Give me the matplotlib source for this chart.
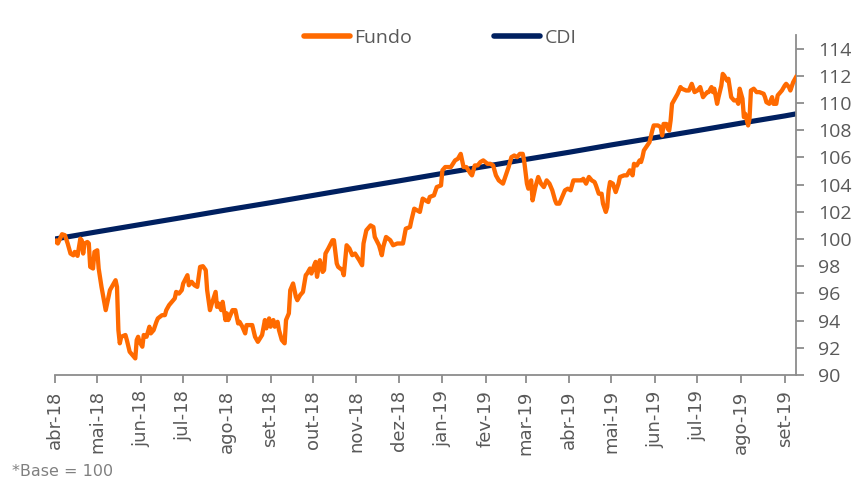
import matplotlib
matplotlib.use("Agg")
import matplotlib.pyplot as plt
import datetime as dt

# ---- data ----
start_date = "2018-04-01"
end_date = "2019-09-09"

fundo_days = [0,1,2,5,7,9,11,13,14,16,18,19,20,21,23,24,25,27,28,30,31,33,36,37,39,43,44,45,46,47,50,51,53,56,57,58,59,60,62,63,65,67,68,70,72,73,76,78,79,81,83,85,86,88,90,91,94,95,97,99,101,
              103,105,107,108,110,111,114,115,116,118,119,121,122,123,126,128,130,131,133,135,136,140,142,144,147,149,150,152,153,155,156,158,159,161,163,164,166,167,169,171,172,174,176,178,179,181,182,184,185,186,188,190,191,192,194,197,198,
              200,201,204,205,207,209,211,213,216,218,219,221,224,226,227,230,232,233,235,238,240,243,245,247,249,252,253,255,257,259,261,263,265,266,269,271,274,275,277,281,284,286,288,290,292,295,296,
              298,300,302,304,307,309,311,313,315,318,320,322,324,326,328,330,332,333,335,336,338,339,341,343,345,347,349,351,353,355,356,358,360,362,364,366,368,371,374,375,377,379,381,383,384,386,388,389,391,
              392,393,394,396,398,400,401,404,406,408,410,411,413,415,416,417,418,420,422,424,425,428,430,431,432,434,435,436,437,438,440,442,444,445,448,450,452,454,456,458,460,461,463,464,466,467,468,470,471,473,474,475,477,478,480,482,484,485,486,488,489,490,492,493,494,496,498,500,503,504,505,507,509,510,512,513,516,518,519,521,522,524,526]

fundo_values = [99.8,99.9,99.67,100.35,100.28,99.67,98.93,98.8,99.05,98.76,100.03,99.9,98.93,99.67,99.78,99.67,97.95,97.83,99.05,99.17,97.83,96.48,94.77,95.26,96.24,96.97,96.48,93.3,92.33,92.81,92.94,92.57,91.71,91.34,91.22,92.57,92.81,92.44,92.08,92.94,92.81,93.55,93.06,93.3,93.91,94.16,94.4,94.4,94.77,95.14,95.38,95.63,96.11,95.99,96.24,96.73,97.34,96.6,96.85,96.6,96.48,
                97.95,98.0,97.71,96.24,94.77,95.14,96.11,95.01,95.26,94.77,95.38,94.04,94.53,94.04,94.77,94.77,93.79,93.91,93.55,93.06,93.67,93.67,92.81,92.44,92.94,94.04,93.43,94.16,93.55,94.04,93.55,93.91,93.3,92.57,92.33,94.04,94.53,96.24,96.73,95.75,95.5,95.87,96.11,97.34,97.46,97.83,97.46,98.07,98.32,97.22,98.44,97.58,97.71,98.93,99.3,99.91,99.91,
                98.2,97.95,97.71,97.34,99.54,99.3,98.81,98.93,98.44,98.07,99.67,100.64,101.0,100.88,100.15,99.54,98.81,99.42,100.15,99.91,99.54,99.67,99.67,99.67,100.76,100.88,101.38,102.23,102.11,101.99,102.97,102.84,102.72,103.09,103.21,103.82,103.94,105.05,105.29,105.29,105.78,105.9,106.26,105.29,105.29,104.8,104.68,
                105.41,105.41,105.66,105.78,105.53,105.53,105.41,104.68,104.31,104.07,104.68,105.29,106.02,106.14,106.02,106.26,106.26,105.78,104.07,103.7,104.31,102.84,103.82,104.56,104.07,103.82,104.31,104.07,103.58,102.84,102.6,102.6,103.09,103.58,103.7,103.58,104.31,104.31,104.31,104.43,104.07,104.56,104.31,104.19,103.94,103.33,103.33,102.6,101.99,
                102.35,103.58,104.19,104.07,103.45,104.07,104.56,104.68,104.68,105.05,104.68,105.53,105.41,105.78,105.66,106.02,106.51,106.81,107.12,107.98,108.35,108.35,108.22,107.61,108.46,108.46,108.1,107.98,108.72,109.94,110.31,110.68,111.17,111.05,110.92,110.92,111.41,110.8,110.92,111.17,110.43,110.56,110.8,110.8,111.17,110.8,111.05,109.94,110.43,111.28,112.14,112.02,111.65,111.78,110.43,110.19,110.19,109.94,111.05,110.31,108.96,109.2,108.35,108.84,110.92,111.05,110.8,110.8,110.68,110.43,110.06,109.94,110.43,109.94,109.94,110.56,110.92,111.28,111.41,111.17,110.92,111.53,111.9]

cdi_dates = ["2018-04-01","2018-05-01","2018-06-01","2018-07-01","2018-08-01","2018-09-01",
             "2018-10-01","2018-11-01","2018-12-01","2019-01-01","2019-02-01","2019-03-01",
             "2019-04-01","2019-05-01","2019-06-01","2019-07-01","2019-08-01","2019-09-01","2019-09-09"]
cdi_values = [100.0,100.53,101.07,101.59,102.14,102.67,103.2,103.75,104.27,104.82,105.35,105.85,
              106.38,106.92,107.45,107.97,108.52,109.05,109.2]

month_labels = ["abr-18","mai-18","jun-18","jul-18","ago-18","set-18","out-18","nov-18","dez-18",
                "jan-19","fev-19","mar-19","abr-19","mai-19","jun-19","jul-19","ago-19","set-19"]
y_ticks = [90,92,94,96,98,100,102,104,106,108,110,112,114]

assert len(fundo_days) == len(fundo_values)

# ---- build ----
d0 = dt.datetime.strptime(start_date, "%Y-%m-%d")
fundo_x = [d0 + dt.timedelta(days=d) for d in fundo_days]
cdi_x = [dt.datetime.strptime(s, "%Y-%m-%d") for s in cdi_dates]
month_x = cdi_x[:len(month_labels)]

ORANGE = "#FF6A00"
NAVY = "#002060"
GRAY = "#595959"
SPINE = "#8C8C8C"

fig = plt.figure(figsize=(8.56, 4.8), dpi=100)
ax = fig.add_axes([55/856, 1-375/480, (796-55)/856, (375-35)/480])

l_cdi, = ax.plot(cdi_x, cdi_values, color=NAVY, lw=3.7, solid_capstyle="round", zorder=2, label="CDI")
l_f, = ax.plot(fundo_x, fundo_values, color=ORANGE, lw=3.1, solid_joinstyle="round", zorder=3, label="Fundo")

ax.set_xlim(d0, dt.datetime.strptime(end_date, "%Y-%m-%d"))
ax.set_ylim(90, 115)

ax.yaxis.tick_right()
ax.set_yticks(y_ticks)
ax.set_yticklabels([str(v) for v in y_ticks], fontfamily="Open Sans", fontsize=14, color=GRAY)
ax.set_xticks(month_x)
ax.set_xticklabels(month_labels, rotation=90, fontfamily="DejaVu Sans", fontsize=13, color=GRAY)

for s in ["top", "left"]:
    ax.spines[s].set_visible(False)
for s in ["bottom", "right"]:
    ax.spines[s].set_color(SPINE)
    ax.spines[s].set_linewidth(1.3)
ax.tick_params(axis="x", direction="out", length=6, width=1.3, color=SPINE, pad=5)
ax.tick_params(axis="y", direction="out", length=6, width=1.3, color=SPINE, pad=10)

leg = fig.legend([l_f, l_cdi], ["Fundo", "CDI"], loc="center", bbox_to_anchor=(440/856, 1-38/480),
                 ncol=2, frameon=False, handlelength=2.4, handletextpad=0.2, columnspacing=4.2,
                 prop={"family": "Open Sans", "size": 14})
for t in leg.get_texts():
    t.set_color(GRAY)
for h in leg.legend_handles:
    h.set_linewidth(4)
    h.set_solid_capstyle("round")

fig.text(12/856, 1-471/480, "*Base = 100", fontfamily="DejaVu Sans", fontsize=11.5, color="#808080",
         ha="left", va="center")

fig.savefig("out.png", dpi=100)
